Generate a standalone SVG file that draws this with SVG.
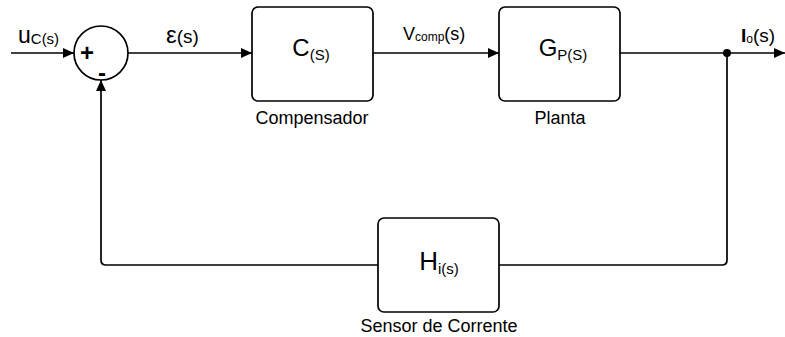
<svg xmlns="http://www.w3.org/2000/svg" width="785" height="337" viewBox="0 0 785 337">
<style>
.blk{fill:#fff;stroke:#000;stroke-width:1.7}
.wire{fill:none;stroke:#000;stroke-width:1.7}
text{font-family:"Liberation Sans",Arial,sans-serif;fill:#000}
.lbl{font-size:18px}
.big{font-size:24px}
.sub{font-size:15px}
</style>
<defs>
<marker id="ah" markerWidth="12" markerHeight="10" refX="11" refY="5" orient="auto" markerUnits="userSpaceOnUse">
<path d="M0,0 L11,5 L0,10 Z" fill="#000"/>
</marker>
</defs>
<g id="connectors">
<line class="wire" x1="11" y1="53" x2="74" y2="53" marker-end="url(#ah)"/>
<line class="wire" x1="128" y1="53" x2="252" y2="53" marker-end="url(#ah)"/>
<line class="wire" x1="373" y1="53" x2="499" y2="53" marker-end="url(#ah)"/>
<line class="wire" x1="620" y1="53" x2="785" y2="53" marker-end="url(#ah)"/>
<path class="wire" d="M727,53 V260 Q727,265 722,265 H499"/>
<path class="wire" d="M378,265 H106 Q101,265 101,260 V80" marker-end="url(#ah)"/>
<circle cx="727" cy="53" r="4" fill="#000"/>
<text x="18" y="43" style="font-size:23px">u<tspan style="font-size:15px" dy="1">C(s)</tspan></text>
<text x="166" y="43" style="font-size:19px"><tspan style="font-size:24px">ε</tspan>(s)</text>
<text x="403" y="40" class="lbl">V<tspan style="font-size:12px" dy="1">comp</tspan><tspan dy="-1">(s)</tspan></text>
<text x="741" y="42" style="font-size:19px"><tspan font-weight="bold">I</tspan><tspan style="font-size:12px" dy="1">o</tspan><tspan dy="-1">(s)</tspan></text>
</g>
<g id="sum">
<circle class="blk" cx="101" cy="53" r="27"/>
<text x="87" y="61" text-anchor="middle" style="font-size:24px;font-weight:bold">+</text>
<text x="102" y="81" text-anchor="middle" style="font-size:24px;font-weight:bold">-</text>
</g>
<g id="compensador">
<rect class="blk" x="252" y="7" width="121" height="94" rx="6"/>
<text x="311" y="56" text-anchor="middle" class="big">C<tspan class="sub" dy="4">(S)</tspan></text>
<text x="312" y="124" text-anchor="middle" class="lbl">Compensador</text>
</g>
<g id="planta">
<rect class="blk" x="499" y="7" width="121" height="94" rx="6"/>
<text x="563" y="56" text-anchor="middle" class="big">G<tspan class="sub" dy="4">P(S)</tspan></text>
<text x="560" y="124" text-anchor="middle" class="lbl">Planta</text>
</g>
<g id="sensor">
<rect class="blk" x="378" y="218" width="121" height="94" rx="6"/>
<text x="439" y="270" text-anchor="middle" style="font-size:26px">H<tspan class="sub" dy="4">i(s)</tspan></text>
<text x="439" y="332" text-anchor="middle" class="lbl">Sensor de Corrente</text>
</g>
</svg>
